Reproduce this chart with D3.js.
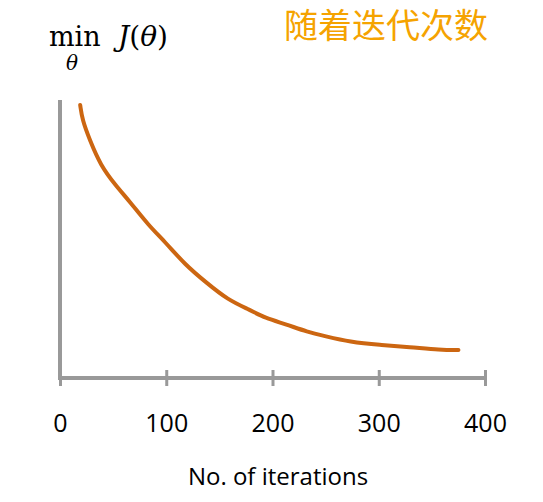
<html>
<head>
<script src="https://d3js.org/d3.v7.min.js"></script>
</head>
<body style="margin:0">
<svg width=543 height=502></svg>
<script>
// iterations vs cost
const iterations = [19, 21, 28, 38, 52, 66, 83, 99, 118, 137, 158, 179, 193, 212, 233, 249, 273, 301, 329, 358, 375];
const cost = [273, 258, 238, 213, 193, 176, 153, 136, 113, 96, 78, 68, 60, 54, 46, 42, 36, 33, 31, 28, 28];
const xTicks = [0, 100, 200, 300, 400];

const svg = d3.select("svg");
const x = d3.scaleLinear().domain([0, 400]).range([60, 485]);
const y = d3.scaleLinear().domain([0, 278]).range([378, 100]);

svg.append("line").attr("x1", 60).attr("x2", 60).attr("y1", 100).attr("y2", 379)
    .attr("stroke", "#999").attr("stroke-width", 4);

const xAxis = svg.append("g").attr("transform", "translate(0,378)")
    .call(d3.axisBottom(x).tickValues(xTicks).tickSize(8).tickSizeOuter(0).tickPadding(28));
xAxis.select(".domain").attr("stroke", "#999").attr("stroke-width", 4).attr("d", "M58,0H487");
xAxis.selectAll(".tick line").attr("stroke", "#999").attr("stroke-width", 3).attr("y1", -8).attr("y2", 8);
xAxis.selectAll(".tick text").attr("fill", "#000").style("font", "25px 'Open Sans', sans-serif");

svg.append("text").attr("x", 278).attr("y", 485).attr("text-anchor", "middle")
    .style("font", "24px 'Open Sans', sans-serif").text("No. of iterations");

svg.append("path")
    .datum(iterations.map((d, i) => [d, cost[i]]))
    .attr("fill", "none").attr("stroke", "#cc6611").attr("stroke-width", 4).attr("stroke-linecap", "round")
    .attr("d", d3.line().x(d => x(d[0])).y(d => y(d[1])).curve(d3.curveBasis));

// title math
const t = svg.append("g").style("font-family", "'DejaVu Serif', 'Liberation Serif', serif");
t.append("text").attr("x", 49).attr("y", 46).style("font-size", "27px").text("min");
t.append("text").attr("x", 66).attr("y", 70).style("font-size", "20px").style("font-style", "italic").text("θ");
t.append("text").attr("x", 118).attr("y", 46).style("font-size", "28px")
    .html("<tspan font-style='italic'>J</tspan>(<tspan font-style='italic'>θ</tspan>)");

svg.append("text").attr("x", 284).attr("y", 38).attr("fill", "#f5a300")
    .style("font", "34px 'Noto Sans CJK SC', sans-serif").text("随着迭代次数");
</script>
</body>
</html>
